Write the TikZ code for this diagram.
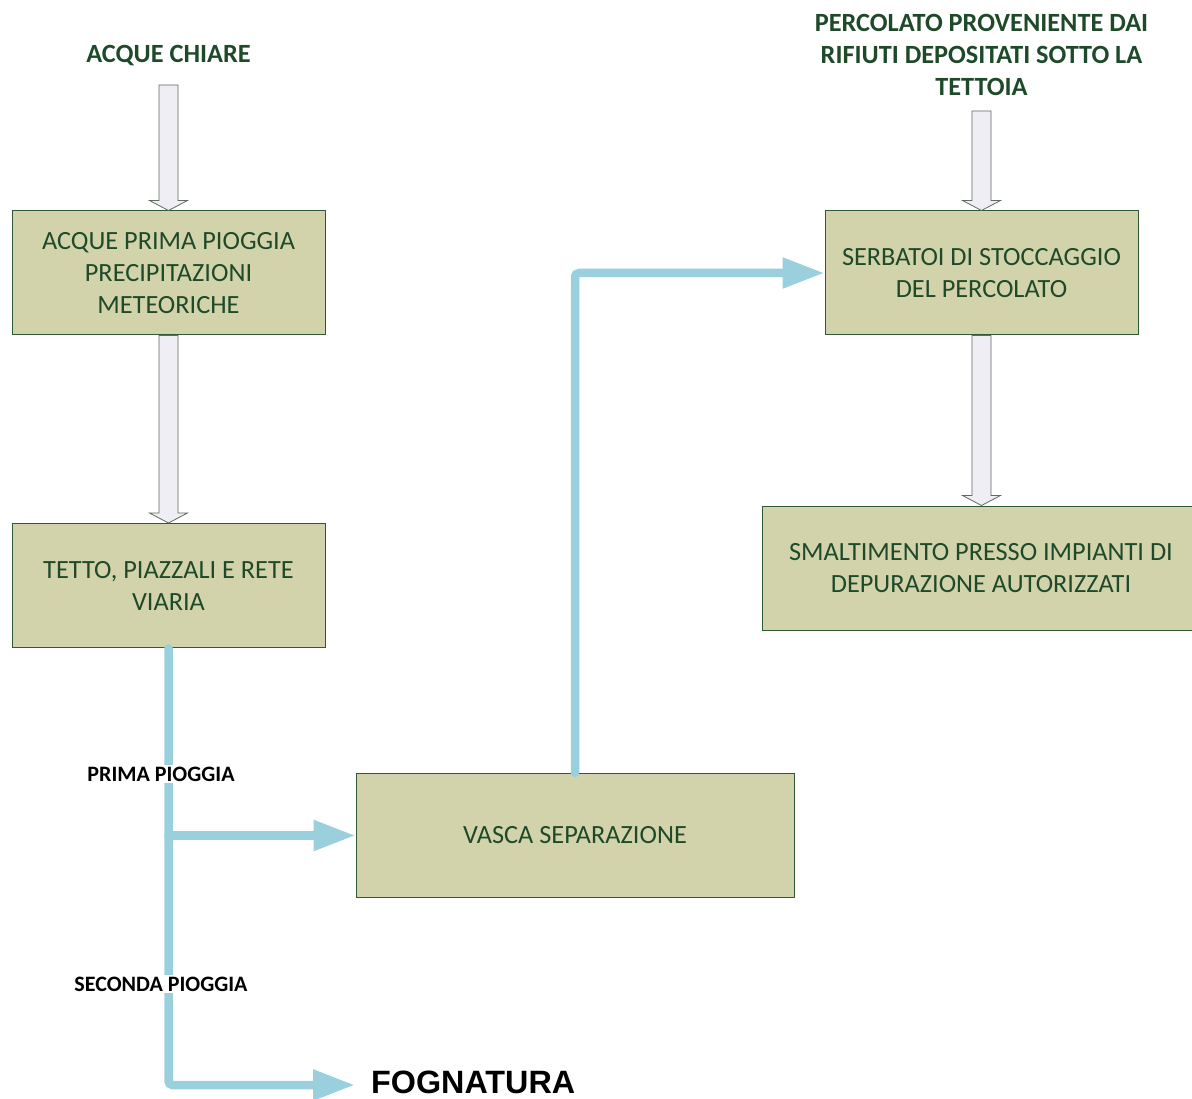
\documentclass[tikz,border=0pt]{standalone}
\usepackage{fontspec}
\setmainfont{Carlito}
\newfontfamily\arialfont{Liberation Sans}
\usetikzlibrary{arrows.meta,calc}

\definecolor{boxfill}{HTML}{D3D3AB}
\definecolor{boxline}{HTML}{2F5A35}
\definecolor{boxtext}{HTML}{1E4A2A}
\definecolor{flowblue}{HTML}{9AD0DE}
\definecolor{arrowfill}{HTML}{EFEEF4}
\definecolor{arrowline}{HTML}{5E6B5E}

% Hollow block arrow pointing down from #1 to #2
\newcommand\blockarrow[2]{%
  \path[hollowarrow] let \p1=(#1), \p2=(#2) in
    (\x1-9.5pt,\y1) -- (\x1+9.5pt,\y1) -- (\x1+9.5pt,\y2+10pt) -- (\x1+19pt,\y2+10pt)
    -- (\x1,\y2) -- (\x1-19pt,\y2+10pt) -- (\x1-9.5pt,\y2+10pt) -- cycle;}

\begin{document}
\begin{tikzpicture}[x=1pt,y=-1pt,
  stage/.style={draw=boxline, line width=1pt, fill=boxfill, text=boxtext,
    minimum width=313pt, minimum height=124pt, align=center,
    font=\fontsize{26.3}{32}\selectfont},
  heading/.style={text=boxtext, align=center,
    font=\bfseries\fontsize{26.3}{32}\selectfont},
  hollowarrow/.style={draw=arrowline, line width=0.8pt, fill=arrowfill},
  flow/.style={draw=flowblue, line width=8.5pt, line cap=round, rounded corners=4pt,
    -{Triangle[length=42pt,width=29pt]}},
  flowlabel/.style={fill=white, inner sep=2pt, text=black,
    font=\bfseries\fontsize{22}{24}\selectfont}]

\useasboundingbox (0,0) rectangle (1192,1099);

% Headings
\node[heading] (clear) at (168.5,56) {ACQUE CHIARE};
\node[heading] (leach) at (981.5,55) {PERCOLATO PROVENIENTE DAI\\RIFIUTI DEPOSITATI SOTTO LA\\TETTOIA};
\coordinate (clearout) at (168.5,85);
\coordinate (leachout) at (981.5,111);

% Process stages
\node[stage] (rain) at (168.5,273) {ACQUE PRIMA PIOGGIA\\PRECIPITAZIONI\\METEORICHE};
\node[stage] (roof) at (168.5,585.5) {TETTO, PIAZZALI E RETE\\VIARIA};
\node[stage, minimum width=438pt] (tank) at (575,835.5) {VASCA SEPARAZIONE};
\node[stage] (store) at (981.5,273) {SERBATOI DI STOCCAGGIO\\DEL PERCOLATO};
\node[stage, minimum width=438pt] (disposal) at (981,568) {SMALTIMENTO PRESSO IMPIANTI DI\\DEPURAZIONE AUTORIZZATI};
\node[anchor=base west, inner xsep=16pt, inner ysep=0pt, font=\arialfont\bfseries\fontsize{32.3}{36}\selectfont]
  (sewer) at (355,1093) {FOGNATURA};
\coordinate (sewerin) at ($(sewer.base west)+(0,-8)$);

% Hollow arrows
\blockarrow{clearout}{rain.north}
\blockarrow{rain.south}{roof.north}
\blockarrow{leachout}{store.north}
\blockarrow{store.south}{disposal.north}

% Water flows
\draw[flow] (roof.south) -- (roof.south |- sewerin) -- (sewerin);
\draw[flow] (roof.south |- tank.west) -- (tank.west);
\draw[flow] (tank.north) |- (store.west);

% Flow labels
\node[flowlabel] (first) at (161,774) {PRIMA PIOGGIA};
\node[flowlabel] (second) at (161,984) {SECONDA PIOGGIA};
\end{tikzpicture}
\end{document}
